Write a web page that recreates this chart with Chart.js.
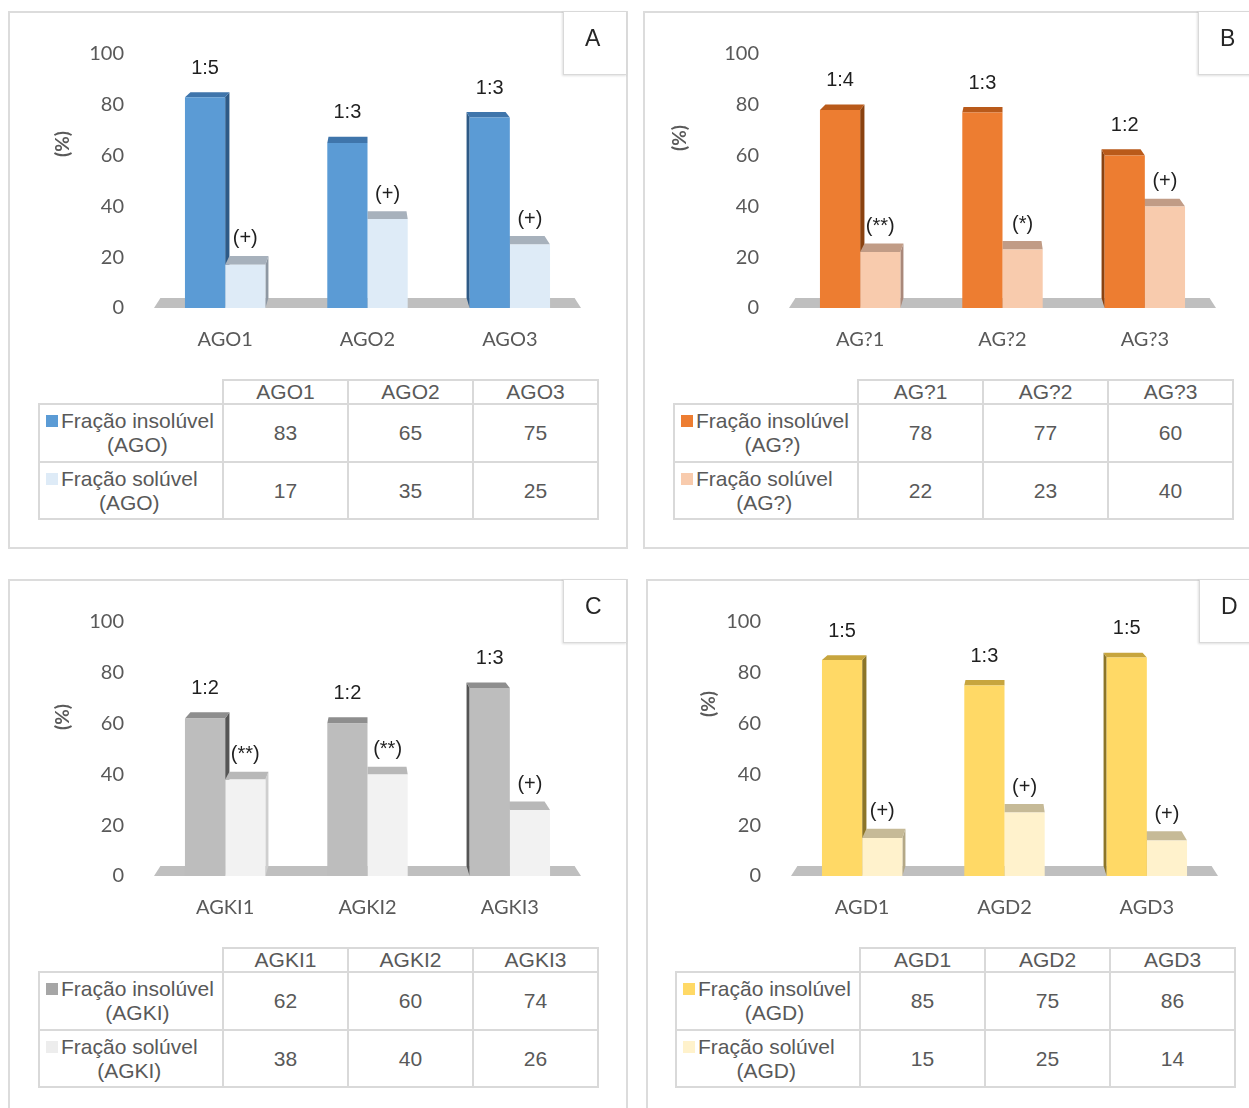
<!DOCTYPE html>
<html><head><meta charset="utf-8">
<script src="https://cdn.jsdelivr.net/npm/chart.js@4/dist/chart.umd.min.js"></script>
<style>
html,body{margin:0;padding:0;background:#fff;}
body{width:1249px;height:1108px;overflow:hidden;position:relative;font-family:"Liberation Sans",Arial,sans-serif;}
.panel{position:absolute;border:2px solid #dcdcdc;box-sizing:border-box;background:#fff;width:620px;}
.letter{position:absolute;width:64px;height:64px;box-sizing:border-box;border:1px solid #d9d9d9;box-shadow:-1px 1px 2px rgba(0,0,0,.12);background:#fff;font-size:23px;color:#262626;line-height:52px;padding-left:21px;font-family:"Liberation Sans",Arial,sans-serif;}
canvas{position:absolute;}
table{position:absolute;border-collapse:collapse;font-size:21px;color:#595959;table-layout:fixed;width:559px;}
td{border:2px solid #d9d9d9;text-align:center;vertical-align:middle;padding:0;white-space:nowrap;}
td.blank{border:none;}
tr.hd td{height:22px;line-height:22px;}
tr.r0 td{height:56px;}
tr.r1 td{height:55px;}
.lw{display:flex;align-items:flex-start;padding-left:6px;}
.sq{width:12px;height:12px;margin-top:6px;margin-right:3px;flex:none;}
.lt{text-align:center;line-height:24px;}
</style>
</head><body>
<script>
// ---------------- data ----------------
const categoriesA = ['AGO1', 'AGO2', 'AGO3'];
const insolubleA  = [83, 65, 75];
const solubleA    = [17, 35, 25];
const ratioA      = ['1:5', '1:3', '1:3'];
const signifA     = ['(+)', '(+)', '(+)'];

const categoriesB = ['AG?1', 'AG?2', 'AG?3'];
const insolubleB  = [78, 77, 60];
const solubleB    = [22, 23, 40];
const ratioB      = ['1:4', '1:3', '1:2'];
const signifB     = ['(**)', '(*)', '(+)'];

const categoriesC = ['AGKI1', 'AGKI2', 'AGKI3'];
const insolubleC  = [62, 60, 74];
const solubleC    = [38, 40, 26];
const ratioC      = ['1:2', '1:2', '1:3'];
const signifC     = ['(**)', '(**)', '(+)'];

const categoriesD = ['AGD1', 'AGD2', 'AGD3'];
const insolubleD  = [85, 75, 86];
const solubleD    = [15, 25, 14];
const ratioD      = ['1:5', '1:3', '1:5'];
const signifD     = ['(+)', '(+)', '(+)'];

const yTicks      = [0, 20, 40, 60, 80, 100];
const seriesNames = ['Fração insolúvel', 'Fração solúvel'];
const groupCodes  = ['AGO', 'AG?', 'AGKI', 'AGD'];
const panelLetters = ['A', 'B', 'C', 'D'];
const yTitle = '(%)';

const panelData = [
  {cats: categoriesA, ins: insolubleA, sol: solubleA, ratio: ratioA, sig: signifA},
  {cats: categoriesB, ins: insolubleB, sol: solubleB, ratio: ratioB, sig: signifB},
  {cats: categoriesC, ins: insolubleC, sol: solubleC, ratio: ratioC, sig: signifC},
  {cats: categoriesD, ins: insolubleD, sol: solubleD, ratio: ratioD, sig: signifD}
];

// ---------------- layout / styles ----------------
const panelStyles = [
  {px: 8,   py: 11,  ph: 538, chartLeft: 154, chartTop: 52,  tx: 38,  ty: 379, lx: 563,  ly: 11,  tdx: -91,  tdy: 90,
   ins: {front: '#5b9bd5', top: '#3f75ab', side: '#2e5a86'}, sol: {front: '#deebf7', top: '#a7b1bc', side: '#8e98a3'},
   legend: ['#5b9bd5', '#deebf7']},
  {px: 643, py: 11,  ph: 538, chartLeft: 789, chartTop: 52,  tx: 673, ty: 379, lx: 1198, ly: 11,  tdx: -109, tdy: 84,
   ins: {front: '#ed7d31', top: '#b95a1a', side: '#8a4210'}, sol: {front: '#f8cbad', top: '#c19c86', side: '#a9887a'},
   legend: ['#ed7d31', '#f8cbad']},
  {px: 8,   py: 579, ph: 600, chartLeft: 154, chartTop: 620, tx: 38,  ty: 947, lx: 563,  ly: 579, tdx: -91,  tdy: 95,
   ins: {front: '#bdbdbd', top: '#8e8e8e', side: '#555555'}, sol: {front: '#f2f2f2', top: '#b8b8b8', side: '#cfcfcf'},
   legend: ['#a6a6a6', '#ededed']},
  {px: 646, py: 579, ph: 600, chartLeft: 791, chartTop: 620, tx: 675, ty: 947, lx: 1199, ly: 579, tdx: -82,  tdy: 82,
   ins: {front: '#ffd966', top: '#c7a53e', side: '#8c7528'}, sol: {front: '#fff2cc', top: '#c6ba97', side: '#b4a886'},
   legend: ['#ffd966', '#fff2cc']}
];

const CW = 620, CH = 360, AREA_W = 427, AREA_H = 256;
const KX = 0.03, KY = 0.0233;

const threeD = {
  id: 'threeD',
  beforeDatasetsDraw(chart, args, o) {
    const ctx = chart.ctx, a = chart.chartArea;
    const base = chart.scales.y.getPixelForValue(0);
    const cx = (a.left + a.right) / 2;
    const vy = a.top - 174 * (a.bottom - a.top) / 256;
    const back = (x, y) => [x + KX * (cx - x), y - KY * (y - vy)];
    ctx.save();
    // floor
    const fl = back(a.left, base), fr = back(a.right, base);
    ctx.fillStyle = '#bfbfbf';
    ctx.beginPath();
    ctx.moveTo(a.left, base); ctx.lineTo(a.right, base);
    ctx.lineTo(fr[0], fr[1]); ctx.lineTo(fl[0], fl[1]);
    ctx.closePath(); ctx.fill();
    const bars = [];
    chart.data.datasets.forEach((ds, di) => {
      const st = di === 0 ? o.ins : o.sol;
      chart.getDatasetMeta(di).data.forEach(bar => {
        const p = bar.getProps(['x', 'y', 'base', 'width'], true);
        bars.push({p, st});
      });
    });
    // sides
    bars.forEach(({p, st}) => {
      const x0 = p.x - p.width / 2, x1 = p.x + p.width / 2;
      const ex = p.x < cx ? x1 : x0;
      const t = back(ex, p.y), b = back(ex, p.base);
      ctx.fillStyle = st.side;
      ctx.beginPath();
      ctx.moveTo(ex, p.y); ctx.lineTo(t[0], t[1]); ctx.lineTo(b[0], b[1]); ctx.lineTo(ex, p.base);
      ctx.closePath(); ctx.fill();
    });
    // tops
    bars.forEach(({p, st}) => {
      const x0 = p.x - p.width / 2, x1 = p.x + p.width / 2;
      const b0 = back(x0, p.y), b1 = back(x1, p.y);
      ctx.fillStyle = st.top;
      ctx.beginPath();
      ctx.moveTo(x0, p.y); ctx.lineTo(x1, p.y); ctx.lineTo(b1[0], b1[1]); ctx.lineTo(b0[0], b0[1]);
      ctx.closePath(); ctx.fill();
    });
    ctx.restore();
  },
  afterDatasetsDraw(chart, args, o) {
    const ctx = chart.ctx, a = chart.chartArea;
    const vy = a.top - 174 * (a.bottom - a.top) / 256;
    ctx.save();
    ctx.fillStyle = '#1f1f1f';
    ctx.font = '20px "Liberation Sans", Arial, sans-serif';
    ctx.textAlign = 'center';
    ctx.textBaseline = 'middle';
    [o.ratio, o.sig].forEach((labels, di) => {
      const off = di === 0 ? 24 : 17;
      chart.getDatasetMeta(di).data.forEach((bar, i) => {
        const p = bar.getProps(['x', 'y'], true);
        const yb = p.y - KY * (p.y - vy);
        ctx.fillText(labels[i], p.x, yb - off);
      });
    });
    // y-axis title
    ctx.fillStyle = '#595959';
    ctx.font = 'bold 19px Lato, "Liberation Sans", sans-serif';
    ctx.translate(a.left + o.tdx, a.top + o.tdy);
    ctx.rotate(-Math.PI / 2);
    ctx.fillText(o.title, 0, 0);
    ctx.restore();
  }
};

panelData.forEach((d, k) => {
  const s = panelStyles[k];
  const panel = document.createElement('div');
  panel.className = 'panel';
  panel.style.left = s.px + 'px'; panel.style.top = s.py + 'px'; panel.style.height = s.ph + 'px';
  document.body.appendChild(panel);

  const cv = document.createElement('canvas');
  const cl = s.px + 1, ct = s.py + 1;
  cv.width = CW; cv.height = CH;
  cv.style.left = cl + 'px'; cv.style.top = ct + 'px';
  cv.style.width = CW + 'px'; cv.style.height = CH + 'px';
  document.body.appendChild(cv);

  const yW = s.chartLeft - cl;
  const padTop = s.chartTop - ct;
  const padRight = CW - yW - AREA_W;
  const xH = CH - padTop - AREA_H;

  new Chart(cv, {
    type: 'bar',
    data: {
      labels: d.cats,
      datasets: [
        {label: seriesNames[0] + ' (' + groupCodes[k] + ')', data: d.ins, backgroundColor: s.ins.front, borderWidth: 0},
        {label: seriesNames[1] + ' (' + groupCodes[k] + ')', data: d.sol, backgroundColor: s.sol.front, borderWidth: 0}
      ]
    },
    options: {
      responsive: false,
      animation: false,
      devicePixelRatio: 1,
      layout: {padding: {left: 0, top: padTop, right: padRight, bottom: 0}},
      datasets: {bar: {categoryPercentage: 0.565, barPercentage: 1}},
      plugins: {
        legend: {display: false},
        tooltip: {enabled: false},
        threeD: {ins: s.ins, sol: s.sol, ratio: d.ratio, sig: d.sig, tdx: s.tdx, tdy: s.tdy, title: yTitle}
      },
      scales: {
        x: {
          grid: {display: false, drawTicks: false},
          border: {display: false},
          ticks: {color: '#595959', font: {family: 'Lato', size: 20}, padding: 20, maxRotation: 0},
          afterFit: sc => { sc.height = xH; }
        },
        y: {
          min: 0, max: 100,
          grid: {display: false, drawTicks: false},
          border: {display: false},
          ticks: {color: '#595959', font: {family: 'Lato', size: 20}, padding: 30},
          afterBuildTicks: sc => { sc.ticks = yTicks.map(v => ({value: v})); },
          afterFit: sc => { sc.width = yW; }
        }
      }
    },
    plugins: [threeD]
  });

  // data table
  const t = document.createElement('table');
  t.style.left = s.tx + 'px'; t.style.top = s.ty + 'px';
  let html = '<colgroup><col style="width:184px"><col style="width:125px"><col style="width:125px"><col style="width:125px"></colgroup>';
  html += '<tr class="hd"><td class="blank"></td>' + d.cats.map(c => '<td>' + c + '</td>').join('') + '</tr>';
  [d.ins, d.sol].forEach((vals, r) => {
    html += '<tr class="r' + r + '"><td><div class="lw"><span class="sq" style="background:' + s.legend[r] + '"></span><span class="lt">' +
      seriesNames[r] + '<br>(' + groupCodes[k] + ')</span></div></td>' +
      vals.map(v => '<td>' + v + '</td>').join('') + '</tr>';
  });
  t.innerHTML = html;
  document.body.appendChild(t);

  const L = document.createElement('div');
  L.className = 'letter';
  L.style.left = s.lx + 'px'; L.style.top = s.ly + 'px';
  L.textContent = panelLetters[k];
  document.body.appendChild(L);
});
</script>
</body></html>
